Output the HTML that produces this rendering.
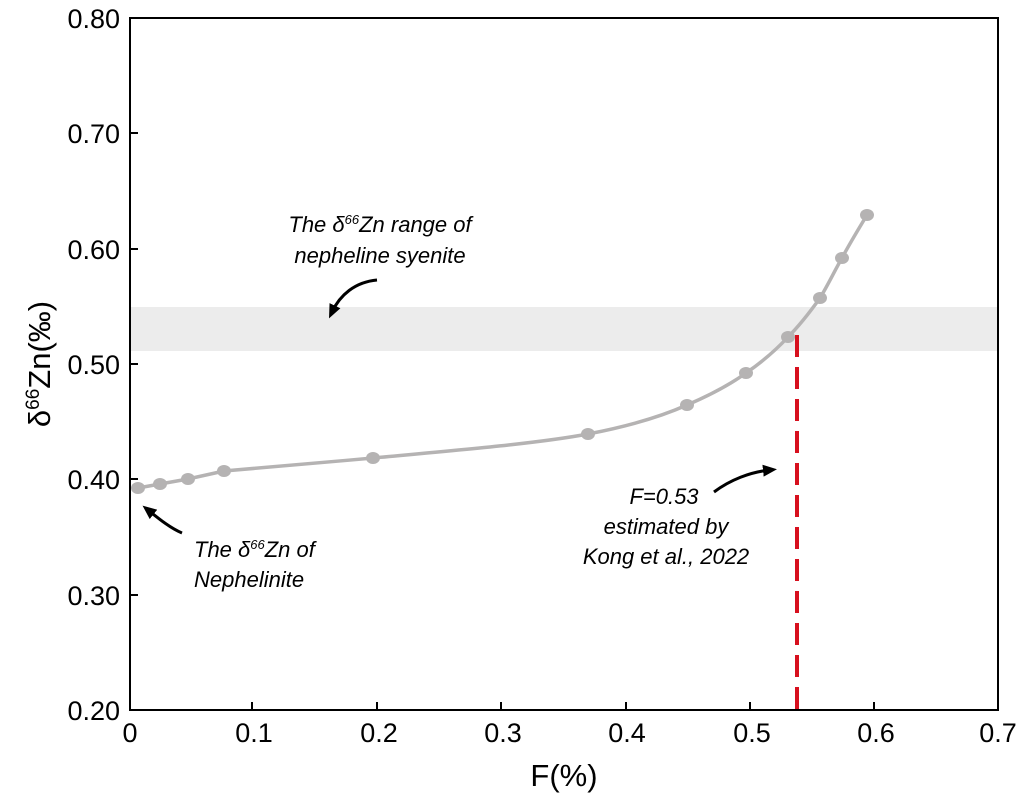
<!DOCTYPE html>
<html><head><meta charset="utf-8"><style>
body{margin:0;background:#fff}
svg text{font-family:"Liberation Sans",Arial,sans-serif}
</style></head><body>
<svg width="1021" height="798" viewBox="0 0 1021 798" xmlns="http://www.w3.org/2000/svg">
<defs><marker id="ah" markerWidth="14" markerHeight="12" refX="7" refY="6" orient="auto" markerUnits="userSpaceOnUse"><path d="M0,0 L14,6 L0,12 Z" fill="#000"/></marker></defs>
<rect x="130" y="307" width="868" height="44" fill="#ececec"/>
<line x1="797" y1="335" x2="797" y2="710" stroke="#d7101e" stroke-width="4" stroke-dasharray="22,10"/>
<path d="M138,488 L160,484 L188,479 L224,471 C300,464 330,462 373,458 C470,449 540,443 588,434 C630,426 660,417 687,405 C708,396 728,386 746,373 C762,362 776,350 788,337 C800,325 810,312 820,298 C828,285 835,270 842,258 C850,243 858,230 867,215" fill="none" stroke="#b5b3b3" stroke-width="3.5"/>
<g fill="#b5b3b3">
<ellipse cx="138" cy="488" rx="7" ry="6"/><ellipse cx="160" cy="484" rx="7" ry="6"/><ellipse cx="188" cy="479" rx="7" ry="6"/><ellipse cx="224" cy="471" rx="7" ry="6"/><ellipse cx="373" cy="458" rx="7" ry="6"/><ellipse cx="588" cy="434" rx="7" ry="6"/><ellipse cx="687" cy="405" rx="7" ry="6"/><ellipse cx="746" cy="373" rx="7" ry="6"/><ellipse cx="788" cy="337" rx="7" ry="6"/><ellipse cx="820" cy="298" rx="7" ry="6"/><ellipse cx="842" cy="258" rx="7" ry="6"/><ellipse cx="867" cy="215" rx="7" ry="6"/>
</g>
<rect x="130" y="18" width="868" height="692" fill="none" stroke="#000" stroke-width="2"/>
<g stroke="#000" stroke-width="2">
<line x1="252" y1="710" x2="252" y2="702"/><line x1="377" y1="710" x2="377" y2="702"/><line x1="501" y1="710" x2="501" y2="702"/><line x1="626" y1="710" x2="626" y2="702"/><line x1="750" y1="710" x2="750" y2="702"/><line x1="874" y1="710" x2="874" y2="702"/>
<line x1="130" y1="595" x2="138" y2="595"/><line x1="130" y1="479" x2="138" y2="479"/><line x1="130" y1="364" x2="138" y2="364"/><line x1="130" y1="249" x2="138" y2="249"/><line x1="130" y1="133" x2="138" y2="133"/>
</g>
<g font-size="27" text-anchor="end" fill="#000">
<text x="120" y="720">0.20</text><text x="120" y="605">0.30</text><text x="120" y="489">0.40</text><text x="120" y="374">0.50</text><text x="120" y="259">0.60</text><text x="120" y="143">0.70</text><text x="120" y="28">0.80</text>
</g>
<g font-size="27" text-anchor="middle" fill="#000">
<text x="130" y="742">0</text><text x="254" y="742">0.1</text><text x="379" y="742">0.2</text><text x="503" y="742">0.3</text><text x="627" y="742">0.4</text><text x="752" y="742">0.5</text><text x="876" y="742">0.6</text><text x="998" y="742">0.7</text>
</g>
<text x="564" y="786" font-size="31" text-anchor="middle">F(%)</text>
<text transform="translate(50,364) rotate(-90)" font-size="31" text-anchor="middle">δ<tspan font-size="19" dy="-11">66</tspan><tspan dy="11">Zn(‰)</tspan></text>
<g font-size="22" font-style="italic" fill="#000">
<text x="380" y="232" text-anchor="middle">The δ<tspan font-size="13" dy="-8">66</tspan><tspan dy="8">Zn range of</tspan></text>
<text x="380" y="263" text-anchor="middle">nepheline syenite</text>
<text x="194" y="557">The δ<tspan font-size="13" dy="-8">66</tspan><tspan dy="8">Zn  of</tspan></text>
<text x="194" y="587">Nephelinite</text>
<text x="664" y="504" text-anchor="middle">F=0.53</text>
<text x="666" y="534" text-anchor="middle">estimated by</text>
<text x="666" y="564" text-anchor="middle">Kong et al., 2022</text>
</g>
<g fill="none" stroke="#000" stroke-width="3">
<path d="M377,280 C355,282 340,295 332,312" marker-end="url(#ah)"/>
<path d="M182,533 C170,528 158,518 148,510" marker-end="url(#ah)"/>
<path d="M714,492 C730,480 750,472 770,470" marker-end="url(#ah)"/>
</g>
</svg>
</body></html>
